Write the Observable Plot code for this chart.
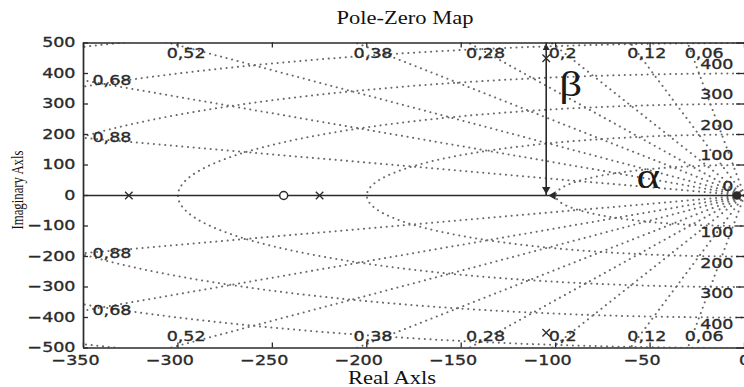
<!DOCTYPE html>
<html><head><meta charset="utf-8">
<script src="https://cdn.jsdelivr.net/npm/d3@7"></script>
<script src="https://cdn.jsdelivr.net/npm/@observablehq/plot@0.6"></script>
<style>
html,body{margin:0;padding:0;background:#fff;}
#wrap{position:relative;width:744px;height:387px;overflow:hidden;background:#fff;}
.lbl{position:absolute;font-family:"Liberation Serif","Times New Roman",serif;color:#111;white-space:nowrap;line-height:1;}
#title{left:405px;top:18px;font-size:18px;transform:translate(-50%,-50%) scaleX(1.25);}
#xlabel{left:392px;top:378px;font-size:18px;transform:translate(-50%,-50%) scaleX(1.25);}
#ylabel{left:18px;top:190px;font-size:15px;transform:translate(-50%,-50%) scaleX(1.15) scaleY(0.85) rotate(-90deg);}
</style></head><body>
<div id="wrap">
  <div id="chart"></div>
  <div class="lbl" id="title">Pole-Zero Map</div>
  <div class="lbl" id="xlabel">Real Axls</div>
  <div class="lbl" id="ylabel">Imaginary Axls</div>
</div>
<script>
// ---- data ----
const xTicks = [-350, -300, -250, -200, -150, -100, -50, 0];
const yTicks = [-500, -400, -300, -200, -100, 0, 100, 200, 300, 400, 500];
const zetas = [0.06, 0.12, 0.2, 0.28, 0.38, 0.52, 0.68, 0.88];   // damping-ratio grid lines
const wns = [100, 200, 300, 400, 500, 600];                       // natural-frequency grid circles
const wnLabelsTop = [0, 100, 200, 300, 400];
const wnLabelsBottom = [100, 200, 300, 400];
const poleRe = [-326, -225, -105, -105];
const poleIm = [0, 0, 450, -450];
const zeroRe = [-244];
const zeroIm = [0];
const originRe = [-4];
const originIm = [0];
const betaX = -105;           // position of the beta arrow (real part of complex poles)
const betaTop = 500;
const annText = ["\u03B2", "\u03B1"];
const annRe = [-92, -51];
const annIm = [364, 62];

// ---- layout ----
const W = 744, H = 387;
const mL = 83, mR = 0, mT = 42.5, mB = 39.5;
const pw = W - mL - mR, ph = H - mT - mB;
const [xMin, xMax] = d3.extent(xTicks);
const [yMin, yMax] = d3.extent(yTicks);
const fmt = d => d < 0 ? "\u2212" + (-d) : String(d);
const zfmt = z => String(z).replace(".", ",");

// grid geometry
const rays = [];
zetas.forEach(z => [1, -1].forEach(s => {
  const id = z + "_" + s, R = 4000;
  rays.push({x: 0, y: 0, id}, {x: -R * z, y: s * R * Math.sqrt(1 - z * z), id});
}));
const circles = [];
wns.forEach(w => d3.range(0, 241).forEach(i => {
  const t = Math.PI / 2 + i * Math.PI / 240;
  circles.push({x: w * Math.cos(t), y: w * Math.sin(t), w});
}));
const zLab = [];
zetas.forEach(z => {
  const k = Math.sqrt(1 - z * z) / z;
  const xt = -yMax / k;
  [1, -1].forEach(s => {
    if (xt >= xMin) zLab.push({x: xt, y: s * yMax, side: s > 0 ? "top" : "bottom", t: zfmt(z)});
    else zLab.push({x: xMin, y: s * (-xMin) * k, side: "left", t: zfmt(z)});
  });
});
const poles = poleRe.map((x, i) => ({x, y: poleIm[i]}));
const zeros = zeroRe.map((x, i) => ({x, y: zeroIm[i]}));
const origin = originRe.map((x, i) => ({x, y: originIm[i]}));
const ann = annText.map((t, i) => ({t, x: annRe[i], y: annIm[i]}));

const dotted = {stroke: "#6a6a6a", strokeWidth: 2, strokeDasharray: "0.1,5.6", strokeLinecap: "round", clip: true};
const dark = "#2a2a2a";
const lab = {fill: dark, stroke: dark, strokeWidth: 0.35};

const chart = Plot.plot({
  width: W, height: H,
  marginLeft: mL, marginRight: mR, marginTop: mT, marginBottom: mB,
  x: {domain: [xMin, xMax], axis: null},
  y: {domain: [yMin, yMax], axis: null},
  style: {fontFamily: "'DejaVu Sans', Verdana, sans-serif", fontSize: "14px", color: dark, background: "white", overflow: "visible"},
  marks: [
    Plot.line(circles, {x: "x", y: "y", z: "w", ...dotted}),
    Plot.line(rays, {x: "x", y: "y", z: "id", ...dotted}),
    // frame (left, top, bottom)
    Plot.ruleY([yMin, yMax], {stroke: dark, strokeWidth: 1.7}),
    Plot.ruleX([xMin], {stroke: dark, strokeWidth: 1.7}),
    // real axis
    Plot.ruleY([0], {x1: xMin, x2: xMax, stroke: dark, strokeWidth: 1.5}),
    // inward ticks on all sides
    Plot.tickY(yTicks, {y: d => d, insetRight: pw - 5, stroke: dark, strokeWidth: 1.3}),
    Plot.tickY(yTicks, {y: d => d, insetLeft: pw - 8, stroke: dark, strokeWidth: 1.3}),
    Plot.tickX(xTicks, {x: d => d, insetBottom: ph - 5, stroke: dark, strokeWidth: 1.3}),
    Plot.tickX(xTicks, {x: d => d, insetTop: ph - 5, stroke: dark, strokeWidth: 1.3}),
    // tick labels
    Plot.text(yTicks, {y: d => d, text: fmt, frameAnchor: "left", textAnchor: "end", dx: -8, ...lab}),
    Plot.text(xTicks.filter(d => d < 0), {x: d => d, text: fmt, frameAnchor: "bottom", dy: 17, dx: -8, ...lab}),
    Plot.text(xTicks.filter(d => d >= 0), {x: d => d, text: fmt, frameAnchor: "bottom", dy: 17, ...lab}),
    // damping labels
    Plot.text(zLab.filter(d => d.side === "top"), {x: "x", y: "y", text: "t", textAnchor: "start", dx: -3, dy: 11, ...lab}),
    Plot.text(zLab.filter(d => d.side === "bottom"), {x: "x", y: "y", text: "t", textAnchor: "start", dx: -3, dy: -11, ...lab}),
    Plot.text(zLab.filter(d => d.side === "left"), {x: "x", y: "y", text: "t", textAnchor: "start", dx: 9, ...lab}),
    // natural frequency labels
    Plot.text(wnLabelsTop, {y: d => d, text: d => String(d), frameAnchor: "right", textAnchor: "end", dx: -11, dy: -9, ...lab}),
    Plot.text(wnLabelsBottom, {y: d => -d, text: d => String(d), frameAnchor: "right", textAnchor: "end", dx: -11, dy: 7, ...lab}),
    // poles, zeros
    Plot.dot(poles, {x: "x", y: "y", symbol: "times", r: 3.5, stroke: dark, strokeWidth: 1.3}),
    Plot.dot(zeros, {x: "x", y: "y", symbol: "circle", r: 4, stroke: dark, strokeWidth: 1.5, fill: "white"}),
    Plot.dot(origin, {x: "x", y: "y", r: 3.5, fill: dark, stroke: dark}),
    // beta arrow
    Plot.ruleX([betaX], {y1: 0, y2: betaTop, stroke: dark, strokeWidth: 1.6}),
    Plot.dot([betaX], {x: d => d, y: () => betaTop, symbol: "triangle2", r: 3.4, fill: dark, dy: 5}),
    Plot.dot([betaX], {x: d => d, y: () => 0, symbol: "triangle2", r: 4, fill: dark, rotate: 180, dy: -6}),
    // alpha arrow head (pointing left along the real axis)
    Plot.dot([betaX], {x: d => d, y: () => 0, symbol: "triangle2", r: 4, fill: dark, rotate: -90, dx: 7}),
    // greek annotations
    Plot.text(ann, {x: "x", y: "y", text: "t", fontSize: 36, fontFamily: "'Liberation Serif', serif", fill: "#1a1a1a"})
  ]
});

// emulate the horizontally stretched look of the original picture
chart.querySelectorAll("text").forEach(t => {
  const tr = t.getAttribute("transform");
  if (tr) t.setAttribute("transform", tr + " scale(1.25,1)");
  else {
    const x = +(t.getAttribute("x") || 0), y = +(t.getAttribute("y") || 0);
    t.setAttribute("transform", `translate(${x},${y}) scale(1.25,1)`);
    t.removeAttribute("x"); t.removeAttribute("y");
  }
});
document.getElementById("chart").append(chart);
</script>
</body></html>
